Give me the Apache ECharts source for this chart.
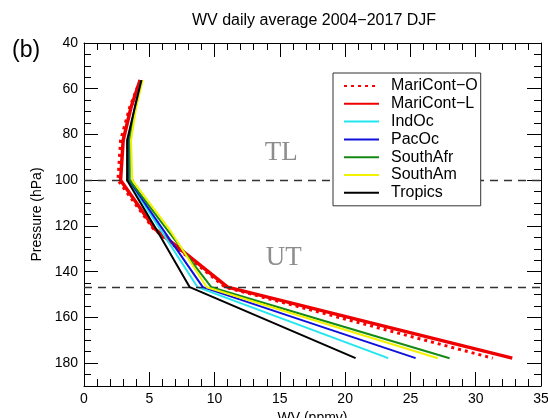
<!DOCTYPE html>
<html>
<head>
<meta charset="utf-8">
<script src="https://cdn.jsdelivr.net/npm/echarts@6/dist/echarts.min.js"></script>
<style>
  html, body { margin: 0; padding: 0; background: #ffffff; }
  #chart { width: 548px; height: 418px; }
</style>
</head>
<body>
<div id="chart"></div>
<script>
// Pressure levels (hPa) of the profiles
const levels = [56.23, 68.13, 82.54, 100, 121.15, 146.78, 177.83];

// Water vapour (ppmv) at each level, per region
const mariContO = [4.3, 3.5, 2.8, 2.6, 5.3, 10.8, 31.3];
const mariContL = [4.3, 3.6, 3.0, 2.8, 5.4, 11.0, 32.8];
const indOc     = [4.4, 3.9, 3.4, 3.4, 5.8, 8.7, 23.3];
const pacOc     = [4.4, 3.9, 3.4, 3.45, 6.0, 9.1, 25.4];
const southAfr  = [4.4, 3.95, 3.5, 3.5, 6.3, 9.75, 28.0];
const southAm   = [4.5, 4.0, 3.6, 3.7, 6.5, 9.4, 27.1];
const tropics   = [4.4, 3.9, 3.3, 3.3, 5.5, 8.1, 20.8];

// Tropopause-layer boundaries drawn as dashed lines (hPa)
const layerBounds = [100, 146.78];

// Layer names placed inside the plot: [WV, pressure]
const layerNames = [
  { name: 'TL', at: [15.1, 88] },
  { name: 'UT', at: [15.3, 134] }
];

const xTicks = { min: 0, max: 35, step: 5 };
const yTicks = { min: 40, max: 190, step: 20, minorStep: 5 };

const profiles = [
  { name: 'MariCont−O', values: mariContO, color: '#ff0000', width: 3, type: [3, 4] },
  { name: 'MariCont−L', values: mariContL, color: '#ee0000', width: 3.5, type: 'solid' },
  { name: 'IndOc',      values: indOc,     color: '#22e6ee', width: 2, type: 'solid' },
  { name: 'PacOc',      values: pacOc,     color: '#1010dd', width: 2, type: 'solid' },
  { name: 'SouthAfr',   values: southAfr,  color: '#158a15', width: 2, type: 'solid' },
  { name: 'SouthAm',    values: southAm,   color: '#f2f200', width: 2, type: 'solid' },
  { name: 'Tropics',    values: tropics,   color: '#000000', width: 2, type: 'solid' }
];

const font = 'Liberation Sans, Arial, Helvetica, sans-serif';

function makeY(pos, withLabels, tickLen, step, showLine) {
  return {
    type: 'value',
    position: pos,
    inverse: true,
    min: yTicks.min,
    max: yTicks.max,
    interval: step,
    offset: 0,
    name: withLabels ? 'Pressure (hPa)' : '',
    nameLocation: 'middle',
    nameRotate: 90,
    nameGap: 33,
    nameTextStyle: { fontFamily: font, fontSize: 14, color: '#000' },
    axisLine: { show: showLine, lineStyle: { color: '#000', width: 1 } },
    axisTick: { show: true, inside: true, length: tickLen, lineStyle: { color: '#000', width: 1 } },
    axisLabel: {
      show: withLabels,
      fontFamily: font, fontSize: 14, color: '#000', margin: 6,
      formatter: v => (v % 20 === 0 && v <= 180) ? String(v) : ''
    },
    splitLine: { show: false }
  };
}

function makeX(pos, withLabels) {
  return {
    type: 'value',
    position: pos,
    min: xTicks.min,
    max: xTicks.max,
    interval: xTicks.step,
    name: withLabels ? 'WV (ppmv)' : '',
    nameLocation: 'middle',
    nameGap: 18,
    nameTextStyle: { fontFamily: font, fontSize: 14, color: '#000' },
    axisLine: { show: true, onZero: false, lineStyle: { color: '#000', width: 1 } },
    axisTick: { show: true, inside: true, length: 14, lineStyle: { color: '#000', width: 1 } },
    minorTick: { show: true, splitNumber: 5, length: 7, lineStyle: { color: '#000', width: 1 } },
    axisLabel: { show: withLabels, fontFamily: font, fontSize: 14, color: '#000', margin: 6 },
    splitLine: { show: false }
  };
}

const series = profiles.map((p, i) => ({
  name: p.name,
  type: 'line',
  xAxisIndex: 0,
  yAxisIndex: 0,
  data: p.values.map((v, k) => [v, levels[k]]),
  showSymbol: false,
  symbol: 'none',
  smooth: false,
  animation: false,
  lineStyle: { color: p.color, width: p.width, type: p.type, cap: 'butt' },
  itemStyle: { color: p.color },
  z: 2 + i,
  markLine: i === 0 ? {
    silent: true,
    symbol: 'none',
    animation: false,
    label: { show: false },
    lineStyle: { color: '#333', width: 1.4, type: [8, 6] },
    data: layerBounds.map(b => ({ yAxis: b }))
  } : undefined
}));

series.push({
  name: 'layers',
  type: 'scatter',
  xAxisIndex: 0,
  yAxisIndex: 0,
  symbolSize: 0,
  silent: true,
  animation: false,
  data: layerNames.map(l => ({ name: l.name, value: l.at })),
  label: {
    show: true,
    position: 'inside',
    formatter: d => d.name,
    fontFamily: 'Liberation Serif, DejaVu Serif, serif',
    fontSize: 27,
    color: '#707070'
  }
});

const chart = echarts.init(document.getElementById('chart'), null, { renderer: 'canvas' });
chart.setOption({
  backgroundColor: '#ffffff',
  animation: false,
  title: [
    {
      text: 'WV daily average 2004−2017 DJF',
      left: 314, top: 13, textAlign: 'center', padding: 0,
      textStyle: { fontFamily: font, fontSize: 16, fontWeight: 'normal', color: '#000' }
    },
    {
      text: '(b)',
      left: 12, top: 39, padding: 0,
      textStyle: { fontFamily: font, fontSize: 23, fontWeight: 'normal', color: '#000' }
    }
  ],
  grid: { left: 84, right: 7, top: 43, bottom: 32, containLabel: false, outerBoundsMode: 'none' },
  xAxis: [makeX('bottom', true), makeX('top', false)],
  yAxis: [
    makeY('left', true, 14, yTicks.step, true),
    makeY('left', false, 7, yTicks.minorStep, false),
    makeY('right', false, 14, yTicks.step, true),
    makeY('right', false, 7, yTicks.minorStep, false)
  ],
  legend: {
    data: profiles.map(p => p.name),
    orient: 'vertical',
    left: 333, top: 73,
    padding: [5, 3, 5, 10],
    itemWidth: 35, itemHeight: 16, itemGap: 1.8,
    backgroundColor: '#ffffff',
    borderColor: '#333',
    borderWidth: 1,
    borderRadius: 0,
    itemStyle: { opacity: 0, borderWidth: 0 },
    textStyle: { fontFamily: font, fontSize: 16, color: '#000', padding: [0, 0, 0, 7] },
    z: 10
  },
  series: series
});
</script>
</body>
</html>
